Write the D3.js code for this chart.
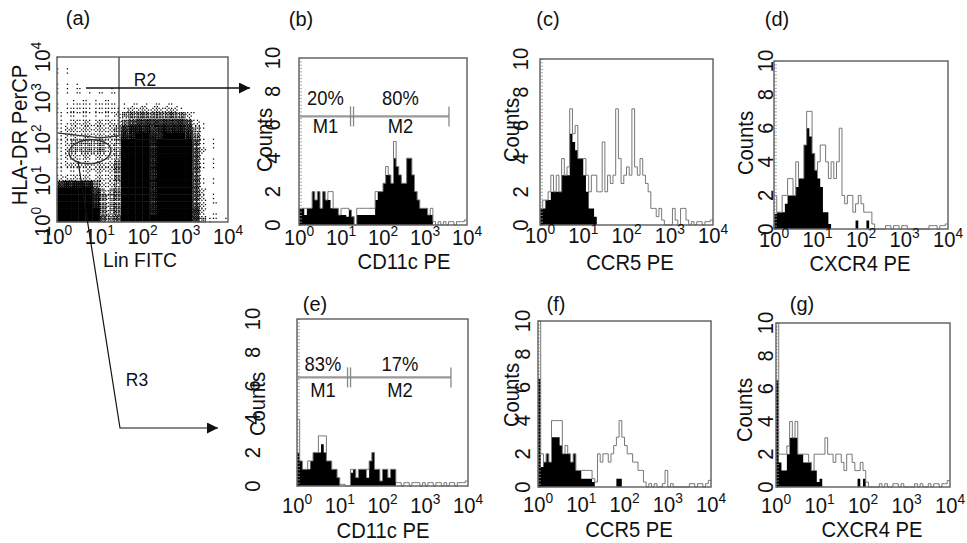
<!DOCTYPE html>
<html>
<head>
<meta charset="utf-8">
<script src="https://cdn.jsdelivr.net/npm/d3@7"></script>
<style>
  html, body { margin: 0; padding: 0; background: #fff; }
  svg { display: block; font-family: "Liberation Sans", Arial, Helvetica, sans-serif; }
</style>
</head>
<body>
<svg id="fig" width="967" height="543"></svg>
<script>
// ---- data ----
const decades = [1, 10, 100, 1000, 10000];
const countTicks = [0, 2, 4, 6, 8, 10];
const binsPerDecade = 16;   // 64 channels over 4 decades

// (a) Lin FITC vs HLA-DR PerCP, event density 0-9 on a 24x24 log grid (top row = 10^4)
const densityRows = [
  "1000 0000 0000 0000 0000 0000",
  "1100 0000 0000 0000 0000 0000",
  "1100 0000 0000 0000 0000 0000",
  "1110 0000 0000 0000 0000 0000",
  "1111 0001 0000 0000 0000 0000",
  "1111 1111 1000 0000 0000 0000",
  "1122 2222 1111 1111 1000 0000",
  "1222 2222 2233 3333 3100 0000",
  "2222 2222 3455 5555 5531 0000",
  "2233 3333 3567 7777 7763 1000",
  "2333 3333 4788 8788 8874 2000",
  "2333 3333 4889 9889 9985 2100",
  "2344 4443 4999 9899 9996 2100",
  "2344 4443 4999 9899 9996 3100",
  "2333 3333 4999 9899 9996 2100",
  "2333 3333 5999 9899 9996 2100",
  "2222 3333 5999 9899 9996 2100",
  "3333 3333 5999 9899 9996 2100",
  "7888 8533 4999 9899 9996 2100",
  "9999 9744 5999 9899 9996 3100",
  "9999 9854 5999 9899 9996 3100",
  "9999 9854 5999 9899 9996 3110",
  "9999 9954 5999 9899 9997 3110",
  "9999 9965 6999 9999 9997 4211"
];
// gates in data units (Lin, HLA-DR)
const gateR2 = [[1, 144], [10.1, 109], [28.2, 122], [28.2, 10000]];
const gateR3Centre = [5.9, 50.6];

// histograms: counts per channel, black = control, grey = stained
const bBlack = [1,1,0.6,1,1,2,1.5,2,1,2, 1.5,1.5,1,1,1,0.6,0.6,0.6,0.5,0.9, 0.5,0,0.6,0.6,0.6,0.6,0.6,0.6,0.6,1.5, 2,2,2.5,3,3,2.5,4,3.5,3,2.5, 2.5,4,4,3,2,1.5,1,1,1,0.6, 0.6];
const bGray  = [1,1,1,1,1,2,1.5,2,1,2, 1.5,2,2,1,1,0.6,1,1,1,0.9, 0.5,0,1,1,1,1,1,1,1,2, 2,2,2.5,3.5,3,2.5,5,3.5,3,2.5, 2.5,4,4,3,2,1.5,1,1,1,0.6, 1,0.2,0,0.2,0,0.2,0,0.2,0.2,0, 0.2,0.2,0.2,0.3];
const cBlack = [1,1,1.5,1.5,2,2,2,2,3,3, 3,5.5,5,4.5,4,4,3,2,1,1, 0.5];
const cGray  = [1,1.5,1.5,2,3,2,3,2,4,3, 3.5,7,5.5,6,4,4,4,3,2,3, 3,2,2,5,2,3,2.5,3,7,4, 2.5,3,3.5,3,7,3.5,3,4,3,2.5, 2,1,1,0.5,1,0.3,0,0,0,1, 0.3,0,1,1,0.3,0,0.2,0,0.2,0.2, 0,0.2,0.2,0.3];
const dBlack = [0.9,1,1,1,1.5,2,2,2,2.5,3, 3,5,6,5.5,4.5,3.5,3,2.5,1,1, 0.3,0,0,0,0,0,0,0,0,0, 0.5,0,0,0,0.5];
const dGray  = [2,1,1,2,2,3,3,2,4,3, 3,5,7,7,4.5,3.5,4,5,5,4, 3,4,3,4,6,2,1.5,2,2,1, 1.5,2,1.5,1,1,1,0.3,0,0,0, 0,0.2,0.2,0,0.2,0.2,0,0.2,0.2,0, 0,0,0,0,0,0,0,0.2,0.2,0.2, 0,0.2,0.2,0.3];
const eBlack = [2,1.5,1,1,1,1.5,2,2,2,2.5, 2,1.5,1.5,1,1,0.5,0,0,0,0, 0.8,1,0.5,1,1,1,0.5,1.5,2,1, 1,0.3,1,1,0.5,1,1];
const eGray  = [4,1.5,1,1,1.5,1.5,2,2,3,3, 3,1.5,1.5,1,1,0.5,0.1,0.1,0,0, 1,1,0.5,1,1,1,1,1.5,2,1, 1,0.3,1,1,0.5,1,1,0.2,0.2,0, 0.2,0.2,0,0.2,0.2,0.2,0,0.2,0,0.2, 0.2,0,0.2,0.2,0,0.2,0,0.2,0.2,0, 0.2,0.2,0.2,0.3];
const fBlack = [6.5,1.2,1.5,2,1.5,3,3,3,2.5,2, 2,2,1.5,2,1,1,0.5,0.5,0.5,0.5, 0.3,0,0,0,0,0,0,0,0,0.5, 0.5];
const fGray  = [10,2,1.5,2,1.5,4,4,4,4,2, 2.5,2,1.5,2,1,1,1,1,1,1, 0.5,0.3,2,1.5,2,2,1.5,2,2.5,3, 4,3,2.5,2,2,1.5,1.5,1,1,0.3, 0,0.2,0,0.2,0,0,0.2,1,0,0.2, 0,0,0,0,0,0,0.2,0.2,0,0.2, 0.2,0,0.2,0.4];
const gBlack = [6.5,1.5,1,1,2,3,3,3,2,2, 1.5,1.5,1.5,1,1,0.3,0.5,0,0,0, 0,0,0,0,0,0,0,0,0,0, 0.5,0,0.5];
const gGray  = [10,2,2,2,2.5,4,3,4,2,2, 2,2,1.5,1,2,2,2,2,3,2, 2,1.5,2,2,1.5,1,2,2,1.5,1, 1,1.5,1,0.3,0,0,0,0,0.2,0, 0.2,0,0,0.2,0.2,0,0.2,0,0,0, 0,0.2,0,0.2,0,0,0.2,0,0.2,0.2, 0,0.2,0.2,0.4];

// M1/M2 markers (CD11c PE): [start, M1|M2 split, end], percentages
const markerB = [1, 18.3, 3725];
const pctB = ["20%", "80%"];
const markerE = [1, 16.5, 3990];
const pctE = ["83%", "17%"];
const markerLevel = 6.5;

// ---- layout ----
const svg = d3.select('#fig');
const ink = '#111';

function label(sel, x, y, str, o = {}) {
  const g = sel.append('g')
    .attr('transform', `translate(${x},${y}) rotate(${o.rot || 0}) scale(${o.sx == null ? 0.92 : o.sx},1)`);
  const t = g.append('text')
    .attr('text-anchor', o.anchor || 'middle')
    .attr('font-size', o.size || 22)
    .attr('fill', ink)
    .text(str);
  if (o.sup != null) t.append('tspan').attr('font-size', 15).attr('dy', -9).text(o.sup);
  return t;
}

// ordered-dither matrix used to render density as specks
function bayerMatrix(n) {
  if (n === 1) return [[0]];
  const m = bayerMatrix(n / 2), out = [];
  for (let j = 0; j < n; j++) {
    out.push([]);
    for (let i = 0; i < n; i++) {
      const q = [[0, 2], [3, 1]][Math.floor(j / (n / 2))][Math.floor(i / (n / 2))];
      out[j].push(4 * m[j % (n / 2)][i % (n / 2)] + q);
    }
  }
  return out;
}

// ---------- panel (a) ----------
const A = { x0: 57, x1: 228, y0: 57, y1: 222 };
const ax = d3.scaleLog().domain([1, 1e4]).range([A.x0, A.x1]);
const ay = d3.scaleLog().domain([1, 1e4]).range([A.y1, A.y0]);
const bayer = bayerMatrix(8);
const grid = densityRows.map(r => r.replace(/ /g, '').split('').map(Number));
const nCols = grid[0].length, nRows = grid.length;
const solids = [], dots = [];
grid.forEach((row, r) => row.forEach((d, c) => {
  if (!d) return;
  const lx0 = Math.pow(10, 4 * c / nCols), lx1 = Math.pow(10, 4 * (c + 1) / nCols);
  const ly1 = Math.pow(10, 4 * (nRows - r) / nRows), ly0 = Math.pow(10, 4 * (nRows - r - 1) / nRows);
  const px0 = ax(lx0), px1 = ax(lx1), py0 = ay(ly1), py1 = ay(ly0);
  const level = Math.round(64 * Math.pow(d / 9, 2));
  if (level >= 64) { solids.push([px0, py0, px1 - px0, py1 - py0]); return; }
  const pw = (px1 - px0) / 8, ph = (py1 - py0) / 8;
  for (let j = 0; j < 8; j++) for (let i = 0; i < 8; i++) {
    if (bayer[(j + r * 3) % 8][(i + c * 5) % 8] < level) dots.push([px0 + i * pw, py0 + j * ph]);
  }
}));
const ga = svg.append('g');
ga.selectAll('rect.cell').data(solids).join('rect')
  .attr('class', 'cell')
  .attr('x', d => d[0] - 0.2).attr('y', d => d[1] - 0.2)
  .attr('width', d => d[2] + 0.4).attr('height', d => d[3] + 0.4)
  .attr('fill', '#000');
ga.selectAll('rect.dot').data(dots).join('rect')
  .attr('class', 'dot')
  .attr('x', d => d[0]).attr('y', d => d[1])
  .attr('width', 1.25).attr('height', 1.25)
  .attr('fill', '#000');

// gates
ga.append('path')
  .attr('d', d3.line().x(d => ax(d[0])).y(d => ay(d[1]))(gateR2))
  .attr('fill', 'none').attr('stroke', '#333').attr('stroke-width', 1.2);
ga.append('ellipse')
  .attr('cx', ax(gateR3Centre[0])).attr('cy', ay(gateR3Centre[1]))
  .attr('rx', 21).attr('ry', 12)
  .attr('transform', `rotate(-4,${ax(gateR3Centre[0])},${ay(gateR3Centre[1])})`)
  .attr('fill', 'none').attr('stroke', '#333').attr('stroke-width', 1.3);
ga.append('rect')
  .attr('x', A.x0).attr('y', A.y0).attr('width', A.x1 - A.x0).attr('height', A.y1 - A.y0)
  .attr('fill', 'none').attr('stroke', '#666').attr('stroke-width', 1.5);

decades.forEach((v, k) => {
  label(svg, ax(v), 244, '10', { sup: k });
  label(svg, 50, ay(v), '10', { sup: k, rot: -90 });
});
label(svg, 140, 267, 'Lin FITC', { size: 21 });
label(svg, 27, 135, 'HLA-DR PerCP', { rot: -90 });
label(svg, 78, 25, '(a)', { size: 20, sx: 1 });

// arrows R2 / R3
const defs = svg.append('defs');
defs.append('marker').attr('id', 'head').attr('viewBox', '0 0 10 10')
  .attr('refX', 10).attr('refY', 5).attr('markerWidth', 13).attr('markerHeight', 11)
  .attr('markerUnits', 'userSpaceOnUse').attr('orient', 'auto')
  .append('path').attr('d', 'M0,0L10,5L0,10Z').attr('fill', '#111');
svg.append('path').attr('d', 'M86,88H250')
  .attr('stroke', '#111').attr('stroke-width', 1.3).attr('fill', 'none').attr('marker-end', 'url(#head)');
svg.append('path').attr('d', 'M78,161L120,428H218')
  .attr('stroke', '#111').attr('stroke-width', 1.2).attr('fill', 'none').attr('marker-end', 'url(#head)');
label(svg, 145, 86, 'R2', { size: 19 });
label(svg, 137, 386, 'R3', { size: 19 });

// ---------- histogram panels ----------
const panels = [
  { key: 'b', black: bBlack, gray: bGray, title: 'CD11c PE', marker: markerB, pct: pctB, pctDy: -11, mDy: 17,
    x0: 299, x1: 467, y0: 58, y1: 225, xtickY: 245, titleX: 404, titleY: 269, ytickX: 280, countsX: 272, countsY: 140, letter: [301, 26] },
  { key: 'c', black: cBlack, gray: cGray, title: 'CCR5 PE',
    x0: 540, x1: 713, y0: 59, y1: 225, xtickY: 243, titleX: 630, titleY: 270, ytickX: 528, countsX: 519, countsY: 130, letter: [548, 26] },
  { key: 'd', black: dBlack, gray: dGray, title: 'CXCR4 PE',
    x0: 774, x1: 948, y0: 61, y1: 229, xtickY: 247, titleX: 860, titleY: 271, ytickX: 773, countsX: 753, countsY: 143, letter: [777, 26] },
  { key: 'e', black: eBlack, gray: eGray, title: 'CD11c PE', marker: markerE, pct: pctE, pctDy: -6, mDy: 20,
    x0: 297, x1: 468, y0: 319, y1: 486, xtickY: 513, titleX: 383, titleY: 538, ytickX: 260, countsX: 265, countsY: 404, letter: [315, 311] },
  { key: 'f', black: fBlack, gray: fGray, title: 'CCR5 PE',
    x0: 538, x1: 711, y0: 321, y1: 487, xtickY: 512, titleX: 629, titleY: 537, ytickX: 530, countsX: 519, countsY: 395, letter: [556, 311] },
  { key: 'g', black: gBlack, gray: gGray, title: 'CXCR4 PE',
    x0: 776, x1: 950, y0: 323, y1: 487, xtickY: 513, titleX: 872, titleY: 537, ytickX: 773, countsX: 752, countsY: 410, letter: [802, 311] }
];

const nBins = 4 * binsPerDecade;
const edges = d3.range(nBins + 1).map(i => Math.pow(10, i / binsPerDecade));

panels.forEach(p => {
  const x = d3.scaleLog().domain([1, 1e4]).range([p.x0, p.x1]);
  const y = d3.scaleLinear().domain([0, 10]).range([p.y1, p.y0]).clamp(true);
  const pts = a => edges.map((e, i) => [e, a[Math.min(i, nBins - 1)] || 0]);
  const area = d3.area().x(d => x(d[0])).y0(p.y1).y1(d => y(d[1])).curve(d3.curveStepAfter);
  const line = d3.line().x(d => x(d[0])).y(d => y(d[1])).curve(d3.curveStepAfter);
  const g = svg.append('g').attr('class', 'panel-' + p.key);

  g.append('path').attr('d', area(pts(p.black))).attr('fill', '#000');
  g.append('path').attr('d', line(pts(p.gray)))
    .attr('fill', 'none').attr('stroke', '#777').attr('stroke-width', 1);

  // minor ticks inside the left edge
  g.append('g').attr('transform', `translate(${p.x0},0)`)
    .call(d3.axisRight(y).ticks(40).tickSize(3).tickFormat(''))
    .call(s => s.select('.domain').remove())
    .call(s => s.selectAll('line').attr('stroke', '#999').attr('stroke-width', 0.8));

  g.append('rect')
    .attr('x', p.x0).attr('y', p.y0).attr('width', p.x1 - p.x0).attr('height', p.y1 - p.y0)
    .attr('fill', 'none').attr('stroke', '#666').attr('stroke-width', 1.5);

  if (p.marker) {
    const my = y(markerLevel);
    const [m0, m1, m2] = p.marker.map(v => x(v));
    g.append('line').attr('x1', m0).attr('x2', m2).attr('y1', my).attr('y2', my)
      .attr('stroke', '#999').attr('stroke-width', 2.2);
    [m0, m1 - 1.5, m1 + 1.5, m2].forEach(mx => {
      g.append('line').attr('x1', mx).attr('x2', mx).attr('y1', my - 10).attr('y2', my + 10)
        .attr('stroke', '#888').attr('stroke-width', 1.3);
    });
    label(g, (m0 + m1) / 2, my + p.pctDy, p.pct[0], { size: 20 });
    label(g, (m1 + m2) / 2, my + p.pctDy, p.pct[1], { size: 20 });
    label(g, (m0 + m1) / 2, my + p.mDy, 'M1', { size: 20 });
    label(g, (m1 + m2) / 2, my + p.mDy, 'M2', { size: 20 });
  }

  decades.forEach((v, k) => label(g, x(v), p.xtickY, '10', { sup: k }));
  countTicks.forEach(v => label(g, p.ytickX, y(v), String(v), { rot: -90 }));
  label(g, p.titleX, p.titleY, p.title);
  label(g, p.countsX, p.countsY, 'Counts', { rot: -90 });
  label(g, p.letter[0], p.letter[1], `(${p.key})`, { size: 20, sx: 1 });
});
</script>
</body>
</html>
